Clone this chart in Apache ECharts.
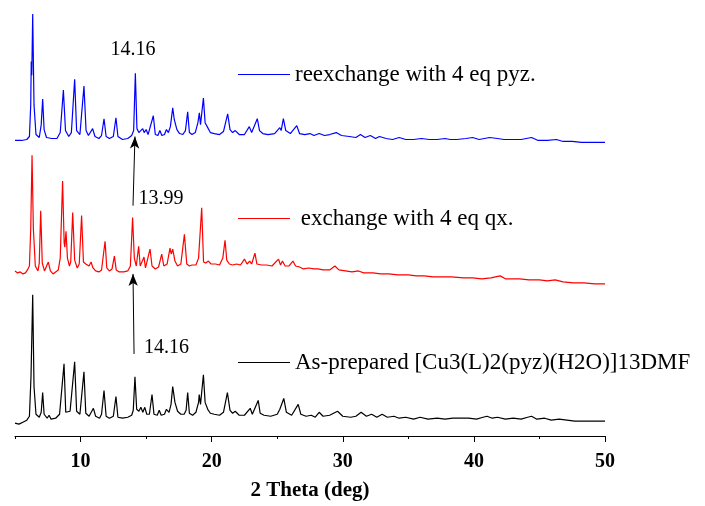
<!DOCTYPE html>
<html>
<head>
<meta charset="utf-8">
<script src="https://cdn.jsdelivr.net/npm/echarts@6/dist/echarts.min.js"></script>
<style>
  html, body { margin: 0; padding: 0; background: #fff; }
  #grafico { width: 705px; height: 506px; }
</style>
</head>
<body>
<div id="grafico"></div>
<script>
// names of the three patterns (bottom to top)
var names = ['As-prepared [Cu3(L)2(pyz)(H2O)]13DMF', ' exchange with 4 eq qx.', 'reexchange with 4 eq pyz.'];
var colors = ['#000000', '#ff0000', '#0000ff'];
// vertical offset of each pattern (arbitrary units)
var offsets = [10, 150, 295];
var tickLabels = [10, 20, 30, 40, 50];

// [2theta, intensity]
var asPrepared = [
  [5.0, 3], [5.3, 2], [5.6, 4], [5.9, 6], [6.1, 10], [6.22, 50], [6.35, 133], [6.45, 40], [6.6, 12], [6.85, 9],
  [7.0, 14], [7.11, 34], [7.22, 12], [7.45, 8], [7.6, 11], [7.75, 7], [8.1, 8], [8.4, 12], [8.74, 63], [8.87, 14],
  [9.0, 12], [9.2, 15], [9.55, 65], [9.7, 15], [9.95, 12], [10.26, 55], [10.4, 13], [10.65, 10], [10.98, 18], [11.15, 10],
  [11.45, 8], [11.6, 12], [11.79, 36], [11.95, 10], [12.2, 8], [12.5, 10], [12.7, 30], [12.85, 9], [13.2, 8], [13.6, 9],
  [13.9, 11], [14.02, 16], [14.15, 50], [14.28, 17], [14.45, 15], [14.6, 19], [14.75, 14], [14.9, 19], [15.05, 12], [15.25, 12],
  [15.45, 32], [15.6, 12], [15.85, 11], [16.0, 16], [16.15, 11], [16.4, 12], [16.55, 17], [16.75, 14], [16.9, 22], [17.03, 40],
  [17.2, 24], [17.4, 15], [17.65, 12], [17.9, 12], [18.05, 16], [18.17, 34], [18.3, 13], [18.55, 11], [18.8, 14], [19.0, 24],
  [19.05, 32], [19.15, 22], [19.37, 52], [19.5, 24], [19.7, 17], [19.9, 13], [20.2, 12], [20.6, 11], [20.9, 14], [21.2, 34],
  [21.4, 16], [21.6, 13], [21.8, 15], [22.1, 11], [22.5, 11], [22.94, 18], [23.1, 12], [23.55, 26], [23.7, 13], [24.0, 11],
  [24.5, 10], [25.0, 12], [25.2, 17], [25.3, 15], [25.5, 28], [25.7, 14], [26.1, 11], [26.6, 22], [26.8, 12], [27.2, 10],
  [27.6, 11], [27.9, 9], [28.2, 14], [28.5, 10], [29.0, 11], [29.6, 15], [30.0, 10], [30.6, 9], [31.0, 10], [31.4, 14],
  [31.8, 10], [32.2, 12], [32.6, 9], [33.0, 12], [33.4, 9], [33.9, 10], [34.3, 8], [34.8, 9], [35.4, 7], [35.9, 9],
  [36.5, 7], [37.2, 8], [37.8, 7], [38.4, 8], [39.0, 8], [39.6, 8], [40.2, 7], [40.7, 9], [41.0, 10], [41.4, 8],
  [41.8, 9], [42.4, 7], [43.0, 8], [43.6, 7], [44.1, 9], [44.4, 10], [44.8, 7], [45.4, 8], [45.9, 6], [46.5, 7],
  [47.1, 6], [47.7, 5], [48.4, 5], [49.1, 5], [50.0, 5]
];

var exchangeQx = [
  [5.0, 17], [5.2, 15], [5.4, 16], [5.6, 14], [5.8, 15], [5.95, 18], [6.1, 22], [6.2, 60], [6.3, 134], [6.4, 60],
  [6.55, 22], [6.75, 17], [6.85, 25], [6.96, 78], [7.08, 25], [7.25, 17], [7.4, 19], [7.54, 26], [7.7, 17], [7.9, 14],
  [8.1, 16], [8.3, 18], [8.45, 30], [8.63, 108], [8.75, 45], [8.8, 41], [8.89, 57], [9.0, 30], [9.15, 22], [9.25, 26],
  [9.4, 76], [9.55, 28], [9.75, 20], [9.9, 24], [10.08, 73], [10.22, 26], [10.4, 24], [10.55, 26], [10.65, 22], [10.8, 26],
  [10.95, 20], [11.15, 17], [11.4, 16], [11.6, 18], [11.87, 47], [12.0, 20], [12.2, 17], [12.4, 19], [12.58, 32], [12.72, 18],
  [12.95, 16], [13.3, 16], [13.6, 17], [13.8, 22], [13.97, 71], [14.1, 30], [14.25, 22], [14.43, 42], [14.55, 22], [14.7, 20],
  [14.84, 31], [14.95, 20], [15.1, 22], [15.3, 39], [15.45, 22], [15.7, 19], [15.95, 21], [16.19, 34], [16.35, 22], [16.6, 24],
  [16.82, 40], [16.92, 34], [17.03, 39], [17.2, 27], [17.4, 22], [17.65, 24], [17.92, 54], [18.1, 24], [18.3, 22], [18.5, 23],
  [18.8, 23], [19.0, 30], [19.24, 81], [19.38, 26], [19.55, 25], [19.75, 27], [19.95, 24], [20.3, 24], [20.6, 23], [20.85, 30],
  [21.02, 48], [21.15, 28], [21.35, 24], [21.6, 23], [21.9, 24], [22.2, 23], [22.5, 29], [22.7, 24], [22.9, 27], [23.05, 24],
  [23.3, 35], [23.45, 24], [23.8, 23], [24.2, 23], [24.6, 22], [25.1, 29], [25.25, 23], [25.4, 27], [25.6, 22], [25.9, 22],
  [26.2, 27], [26.4, 22], [26.7, 21], [27.0, 19], [27.4, 20], [27.8, 19], [28.1, 19], [28.5, 18], [29.0, 18], [29.4, 22],
  [29.7, 18], [30.2, 17], [30.7, 16], [31.2, 17], [31.6, 15], [32.3, 15], [32.9, 14], [33.5, 14], [34.2, 13], [35.0, 13],
  [35.6, 12], [36.2, 12], [36.9, 11], [37.6, 11], [38.3, 11], [39.2, 10], [39.9, 10], [40.6, 9], [41.3, 10], [42.0, 12],
  [42.4, 9], [43.0, 9], [43.5, 9], [44.2, 8], [45.0, 8], [45.6, 7], [46.2, 8], [46.8, 6], [47.6, 5], [48.4, 5],
  [49.2, 4], [50.0, 4]
];

var reexchangePyz = [
  [5.0, 4], [5.5, 4], [5.9, 5], [6.1, 8], [6.2, 40], [6.24, 84], [6.28, 70], [6.35, 132], [6.45, 40], [6.6, 10],
  [6.85, 7], [7.0, 20], [7.11, 46], [7.22, 15], [7.4, 7], [7.8, 6], [8.2, 6], [8.45, 12], [8.69, 55], [8.85, 14],
  [9.1, 8], [9.3, 12], [9.55, 66], [9.7, 14], [9.95, 10], [10.26, 59], [10.42, 14], [10.6, 9], [10.92, 16], [11.1, 8],
  [11.4, 6], [11.6, 9], [11.79, 26], [11.95, 8], [12.2, 6], [12.5, 8], [12.7, 27], [12.85, 8], [13.2, 5], [13.6, 6],
  [13.9, 9], [14.05, 14], [14.18, 72], [14.3, 16], [14.45, 12], [14.6, 13], [14.74, 16], [14.85, 12], [15.0, 15], [15.15, 10],
  [15.3, 8], [15.55, 29], [15.7, 10], [15.9, 9], [16.05, 14], [16.2, 9], [16.4, 10], [16.55, 15], [16.7, 12], [16.85, 18],
  [17.03, 37], [17.15, 25], [17.35, 15], [17.55, 11], [17.8, 10], [18.0, 14], [18.17, 33], [18.3, 12], [18.5, 10], [18.75, 12],
  [18.95, 22], [19.06, 32], [19.15, 20], [19.37, 47], [19.5, 22], [19.7, 17], [19.9, 12], [20.2, 11], [20.6, 10], [20.9, 13],
  [21.22, 31], [21.4, 15], [21.6, 12], [21.8, 14], [22.1, 10], [22.5, 10], [22.87, 18], [23.05, 12], [23.48, 26], [23.65, 14],
  [23.9, 11], [24.3, 10], [24.8, 11], [25.2, 17], [25.3, 14], [25.47, 26], [25.65, 14], [26.0, 11], [26.49, 19], [26.7, 11],
  [27.1, 10], [27.5, 11], [27.8, 9], [28.2, 11], [28.6, 9], [29.0, 10], [29.5, 12], [29.9, 9], [30.5, 8], [31.0, 7],
  [31.35, 10], [31.7, 7], [32.1, 9], [32.5, 6], [32.8, 8], [33.3, 6], [33.8, 5], [34.3, 7], [34.8, 5], [35.4, 5],
  [36.0, 6], [36.6, 5], [37.2, 5], [37.8, 6], [38.2, 5], [38.7, 5], [39.4, 6], [39.9, 7], [40.4, 5], [41.2, 7],
  [41.8, 6], [42.3, 5], [42.9, 5], [43.6, 5], [44.4, 7], [44.9, 4], [45.6, 4], [46.3, 5], [46.8, 3], [47.5, 3],
  [48.2, 2], [48.9, 2], [49.5, 2], [50.0, 2]
];

var patterns = [asPrepared, exchangeQx, reexchangePyz];

// peak annotations: [2theta, height, text]
var peakNotes = [
  [14.0, 391, '14.16'],
  [16.14, 240, '13.99'],
  [16.56, 89, '14.16']
];
// arrows between the 14 deg peaks: [x1, y1, x2, y2]
var arrows = [
  [14.08, 83, 14.0, 164],
  [14.0, 233, 14.15, 303]
];

var serif = 'Liberation Serif';

var chartDom = document.getElementById('grafico');
var myChart = echarts.init(chartDom);
var option;

var series = patterns.map(function (pts, i) {
  var s = {
    name: names[i],
    type: 'line',
    symbol: 'none',
    showSymbol: false,
    animation: false,
    color: colors[i],
    lineStyle: { color: colors[i], width: 1.2 },
    data: pts.map(function (p) { return [p[0], p[1] + offsets[i]]; })
  };
  if (i === 0) {
    s.markLine = {
      silent: true,
      symbol: ['none', 'arrow'],
      symbolSize: [7, 12],
      label: { show: false },
      lineStyle: { color: '#000', width: 1, type: 'solid' },
      data: arrows.map(function (a) {
        return [{ coord: [a[0], a[1]] }, { coord: [a[2], a[3]] }];
      })
    };
    s.markPoint = {
      silent: true,
      symbol: 'circle',
      symbolSize: 0,
      label: {
        show: true,
        position: 'inside',
        formatter: '{b}',
        color: '#000',
        fontFamily: serif,
        fontSize: 20
      },
      data: peakNotes.map(function (n) {
        return { name: n[2], coord: [n[0], n[1]] };
      })
    };
  }
  return s;
});

var legendTops = [351, 207, 63];
var legends = names.map(function (n, i) {
  return {
    data: [n],
    left: 238,
    top: legendTops[i],
    padding: 0,
    icon: 'rect',
    itemWidth: 52,
    itemHeight: 1,
    selectedMode: false,
    textStyle: { fontFamily: serif, fontSize: 23, color: '#000' }
  };
});

option = {
  backgroundColor: '#fff',
  animation: false,
  legend: legends,
  grid: { left: 15, right: 100, top: 10, bottom: 65 },
  xAxis: [
    {
      type: 'value',
      min: 5,
      max: 50,
      interval: 5,
      name: '2 Theta (deg)',
      nameLocation: 'middle',
      nameGap: 44,
      nameTextStyle: { fontFamily: serif, fontSize: 21, fontWeight: 'bold', color: '#000' },
      axisLine: { lineStyle: { color: '#000', width: 1 } },
      axisTick: { length: 3, lineStyle: { color: '#000' } },
      axisLabel: {
        customValues: tickLabels,
        margin: 16,
        fontFamily: serif,
        fontSize: 20,
        fontWeight: 'bold',
        color: '#000'
      },
      splitLine: { show: false }
    },
    {
      type: 'value',
      min: 5,
      max: 50,
      position: 'bottom',
      axisLine: { show: false },
      axisTick: { customValues: tickLabels, length: 6, lineStyle: { color: '#000' } },
      axisLabel: { show: false },
      splitLine: { show: false }
    }
  ],
  yAxis: {
    type: 'value',
    min: 0,
    max: 431,
    show: false
  },
  series: series
};

option && myChart.setOption(option);
</script>
</body>
</html>
